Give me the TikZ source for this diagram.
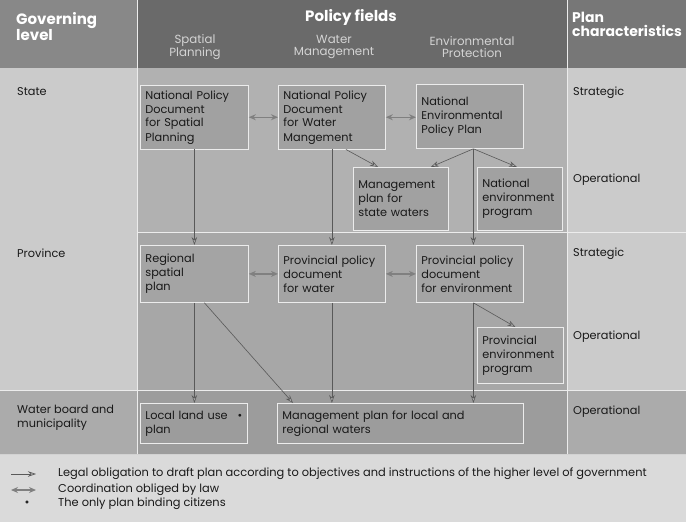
\documentclass[tikz,border=0pt]{standalone}
\usepackage{fontspec}
\setmainfont{Poppins}
\usetikzlibrary{arrows.meta,calc}
\definecolor{pagebg}{HTML}{D2D2D2}
\definecolor{legbg}{HTML}{DADADA}
\definecolor{hdrL}{HTML}{888888}
\definecolor{hdrD}{HTML}{6A6A6A}
\definecolor{hdrM}{HTML}{777777}
\definecolor{sideA}{HTML}{CBCBCB}
\definecolor{polA}{HTML}{B1B1B1}
\definecolor{polB}{HTML}{A7A7A7}
\definecolor{rowC}{HTML}{9C9C9C}
\definecolor{rowS}{HTML}{ABABAB}
\definecolor{boxA}{HTML}{A1A1A1}
\definecolor{boxB}{HTML}{A4A4A4}
\definecolor{subhd}{HTML}{D4D4D4}
\tikzset{
  pbox/.style={draw=white!85!gray, line width=0.8pt, fill=boxA, inner sep=5pt,
    align=left, anchor=north west, text=black!90,
    font=\fontsize{11.3}{14}\selectfont},
  sidelbl/.style={anchor=west, align=left, text=black!90, inner sep=0pt,
    font=\fontsize{11.3}{13.5}\selectfont},
  hdrbold/.style={text=white, font=\fontsize{15}{13.5}\selectfont\bfseries, align=left, inner sep=0pt},
  hdrsub/.style={text=subhd, font=\fontsize{11.8}{12.5}\selectfont, align=center, inner sep=0pt},
  oblig/.style={draw=black!65, line width=0.6pt,
    -{Stealth[length=8pt,width=5.5pt,fill=black!30]}},
  coordarr/.style={draw=black!50, line width=1.2pt,
    {Stealth[length=7pt,width=6pt,fill=black!40]}-{Stealth[length=7pt,width=6pt,fill=black!40]}},
  sepline/.style={draw=white!85!gray, line width=0.8pt},
  legtext/.style={anchor=west, inner sep=0pt, text=black!90, font=\fontsize{11.4}{13}\selectfont}
}
\begin{document}
\begin{tikzpicture}[x=1pt,y=-1pt]
\useasboundingbox (0,0) rectangle (686,522);
% backgrounds
\fill[pagebg] (0,0) rectangle (686,522);
\fill[legbg] (0,455) rectangle (686,522);
\fill[hdrL] (0,0) rectangle (137,68);
\fill[hdrD] (137,0) rectangle (567,68);
\fill[hdrM] (567,0) rectangle (686,68);
\fill[sideA] (0,68) rectangle (137,390);
\fill[sideA] (567,68) rectangle (686,390);
\fill[polA] (137,68) rectangle (567,232);
\fill[polB] (137,232) rectangle (567,390);
\fill[rowS] (0,390) rectangle (137,454);
\fill[rowC] (137,390) rectangle (567,454);
\fill[rowS] (567,390) rectangle (686,454);
\draw[sepline] (137,0) -- (137,454);
\draw[sepline] (567,0) -- (567,454);
\draw[sepline] (137,232) -- (686,232);
\draw[sepline] (0,390) -- (686,390);
% headers
\node[hdrbold, anchor=north west] (hgov) at (16,12) {Governing\\level};
\node[hdrbold, anchor=center] (hpol) at (351,17) {Policy fields};
\node[hdrbold, anchor=north west, font=\fontsize{14}{13.5}\selectfont\bfseries] (hplan) at (572,12) {Plan\\characteristics};
\node[hdrsub] (hsp) at (195,47) {Spatial\\Planning};
\node[hdrsub] (hwm) at (334,47) {Water\\Management};
\node[hdrsub] (hep) at (472,47) {Environmental\\Protection};
% side labels
\node[sidelbl] (lstate) at (17,92) {State};
\node[sidelbl] (lprov) at (17,253) {Province};
\node[sidelbl] (lwb) at (17,418) {Water board and\\municipality};
\node[sidelbl] (r1) at (573,93) {Strategic};
\node[sidelbl] (r2) at (573,180) {Operational};
\node[sidelbl] (r3) at (573,254) {Strategic};
\node[sidelbl] (r4) at (573,337) {Operational};
\node[sidelbl] (r5) at (573,412) {Operational};
% boxes
\node[pbox, text width=98pt, minimum height=63pt] (nsp) at (140,85) {National Policy\\Document\\for Spatial\\Planning};
\node[pbox, text width=97pt, minimum height=63pt] (nwm) at (278,85) {National Policy\\Document\\for Water\\Mangement};
\node[pbox, text width=97pt, minimum height=64pt] (nep) at (416,84) {National\\Environmental\\Policy Plan};
\node[pbox, text width=85pt, minimum height=63pt] (msw) at (353,167) {Management\\plan for\\state waters};
\node[pbox, text width=75pt, minimum height=63pt] (nenv) at (477,167) {National\\environment\\program};
\node[pbox, fill=boxB, text width=98pt, minimum height=57pt] (rsp) at (140,245) {Regional\\spatial\\plan};
\node[pbox, fill=boxB, text width=97pt, minimum height=57pt] (pwat) at (278,245) {Provincial policy\\document\\for water};
\node[pbox, fill=boxB, text width=97pt, minimum height=57pt] (penv) at (416,245) {Provincial policy\\document\\for environment};
\node[pbox, fill=boxB, text width=76pt, minimum height=56pt] (penvp) at (477,327) {Provincial\\environment\\program};
\node[pbox, fill=rowC, text width=97pt, minimum height=40pt] (llu) at (140,403) {Local land use\hfill\textbullet\\plan};
\node[pbox, fill=rowC, text width=236pt, minimum height=40pt] (mlr) at (277,403) {Management plan for local and\\regional waters};
% connectors: obligation
\draw[oblig] (nsp.south) -- (rsp.north);
\draw[oblig] (nwm.south) -- (pwat.north);
\draw[oblig] ([xshift=14pt]nwm.south) -- ([xshift=25pt]msw.north west);
\coordinate (nepb) at ([xshift=3.5pt]nep.south);
\draw[oblig] (nepb) -- ([xshift=-18pt]msw.north east);
\draw[oblig] (nepb) -- ([xshift=-3pt]nenv.north);
\draw[oblig] (nepb) -- (nepb |- penv.north);
\coordinate (penvb) at ([xshift=3.5pt]penv.south);
\draw[oblig] (penvb) -- ([xshift=-5pt]penvp.north);
\draw[oblig] (penvb) -- (penvb |- mlr.north);
\draw[oblig] (rsp.south) -- (rsp.south |- llu.north);
\draw[oblig] ([xshift=10pt]rsp.south) -- ([xshift=16pt]mlr.north west);
\draw[oblig] (pwat.south) -- (pwat.south |- mlr.north);
% connectors: coordination
\draw[coordarr] (nsp.east) -- (nwm.west);
\draw[coordarr] (nwm.east) -- (nep.west |- nwm.east);
\draw[coordarr] (rsp.east) -- (pwat.west);
\draw[coordarr] (pwat.east) -- (penv.west);
% legend
\coordinate (la1) at (11,474);
\coordinate (la2) at (36,474);
\draw[oblig] (la1) -- (la2);
\coordinate (lb1) at (11,490);
\coordinate (lb2) at (36,490);
\draw[coordarr] (lb1) -- (lb2);
\node[inner sep=0pt, text=black!85, font=\fontsize{12}{12}\selectfont] (ldot) at (27,504) {\textbullet};
\node[legtext] (lt1) at (58,474) {Legal obligation to draft plan according to objectives and instructions of the higher level of government};
\node[legtext] (lt2) at (58,490) {Coordination obliged by law};
\node[legtext] (lt3) at (58,504) {The only plan binding citizens};
\end{tikzpicture}
\end{document}
